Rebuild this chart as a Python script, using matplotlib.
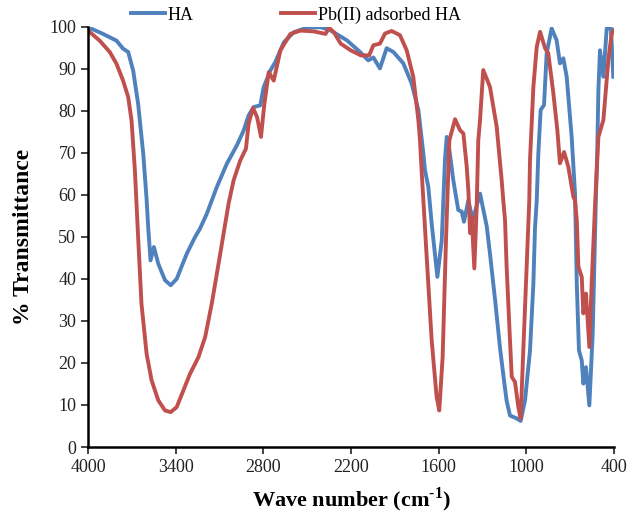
import matplotlib
matplotlib.use("Agg")
from matplotlib import pyplot as plt

plt.rcParams['font.family'] = ['Liberation Serif', 'DejaVu Serif']
plt.rcParams['mathtext.fontset'] = 'custom'
plt.rcParams['mathtext.rm'] = 'Liberation Serif'
plt.rcParams['mathtext.bf'] = 'Liberation Serif:bold'

# HA spectrum (wave number, % transmittance)
ha_wn = [4000, 3897, 3805, 3760, 3725, 3691, 3657, 3622, 3600, 3588, 3572, 3549,
         3519, 3473, 3434, 3393, 3324, 3267, 3233, 3187, 3118, 3050, 2981, 2935,
         2901, 2866, 2821, 2798, 2752, 2718, 2660, 2592, 2500, 2408, 2344, 2229,
         2138, 2082, 2047, 2002, 1956, 1910, 1842, 1785, 1739, 1705, 1694, 1671,
         1648, 1609, 1579, 1557, 1545, 1534, 1500, 1466, 1442, 1427, 1397, 1367,
         1317, 1271, 1249, 1214, 1180, 1150, 1135, 1112, 1066, 1039, 1009, 975,
         952, 941, 929, 918, 902, 879, 861, 827, 793, 770, 747, 724, 690, 667,
         655, 640, 621, 610, 592, 569, 546, 535, 525, 515, 507, 496, 473, 450,
         421, 405]
ha_t = [99.9, 98.3, 96.7, 94.8, 94.0, 89.6, 81.7, 69.8, 59.5, 52.3, 44.4, 47.6,
        43.6, 39.7, 38.5, 40.0, 46.0, 50.0, 52.0, 55.5, 61.9, 67.4, 71.8, 75.3,
        78.9, 80.9, 81.3, 85.6, 89.6, 91.6, 96.3, 98.7, 99.8, 99.9, 99.2, 96.8,
        94.0, 92.0, 92.7, 90.1, 94.9, 94.0, 91.3, 86.5, 80.2, 69.9, 65.9, 61.9,
        53.2, 40.5, 49.2, 68.3, 73.8, 72.6, 63.5, 56.4, 56.0, 53.6, 58.7, 54.0,
        60.3, 52.5, 46.0, 35.0, 23.5, 15.0, 11.0, 7.5, 6.8, 6.2, 11.1, 23.0,
        38.9, 52.0, 58.7, 69.9, 80.2, 81.4, 93.7, 99.6, 96.8, 91.3, 92.5, 88.1,
        73.8, 60.3, 38.9, 23.0, 20.6, 15.1, 19.0, 9.9, 27.0, 43.0, 58.0, 70.0,
        85.0, 94.4, 88.1, 99.6, 99.6, 88.1]

# Pb(II) adsorbed HA spectrum
pb_wn = [4000, 3920, 3851, 3805, 3760, 3725, 3702, 3679, 3657, 3634, 3599, 3565,
         3519, 3473, 3434, 3393, 3347, 3302, 3244, 3198, 3153, 3095, 3038, 3004,
         2958, 2919, 2901, 2871, 2843, 2816, 2793, 2763, 2729, 2683, 2615, 2546,
         2454, 2374, 2351, 2317, 2271, 2202, 2133, 2076, 2047, 2002, 1967, 1922,
         1865, 1819, 1774, 1739, 1728, 1717, 1682, 1648, 1614, 1596, 1573, 1550,
         1527, 1488, 1454, 1431, 1408, 1397, 1385, 1374, 1356, 1340, 1329, 1317,
         1295, 1249, 1203, 1169, 1158, 1146, 1135, 1112, 1100, 1078, 1055, 1039,
         1021, 998, 980, 975, 952, 929, 906, 872, 850, 815, 788, 770, 742, 713,
         678, 667, 655, 644, 621, 610, 592, 569, 553, 530, 507, 473, 439, 416, 400]
pb_t = [99.1, 96.7, 94.0, 91.2, 87.2, 83.3, 77.7, 65.8, 50.0, 34.1, 22.2, 15.9,
        11.1, 8.7, 8.3, 9.5, 13.5, 17.4, 21.4, 26.2, 34.1, 46.0, 57.9, 63.4,
        68.2, 71.0, 76.9, 80.7, 78.5, 73.8, 81.7, 89.2, 87.2, 94.4, 98.3, 99.1,
        98.9, 98.3, 99.8, 98.7, 96.0, 94.4, 93.2, 93.2, 95.6, 96.0, 98.4, 99.0,
        98.0, 94.4, 88.1, 77.8, 73.0, 65.9, 45.2, 25.4, 11.9, 8.7, 21.4, 49.2,
        73.0, 78.0, 75.4, 74.6, 66.7, 61.1, 50.9, 54.8, 42.5, 57.1, 73.0, 77.8,
        89.7, 85.7, 76.2, 63.5, 58.7, 54.0, 42.9, 25.4, 16.7, 15.5, 9.5, 6.8,
        23.0, 42.9, 58.7, 68.3, 85.7, 95.2, 98.8, 94.9, 93.7, 84.1, 75.4, 67.5,
        70.2, 66.7, 59.5, 58.7, 54.0, 42.9, 40.5, 31.8, 36.5, 23.8, 38.9, 57.5,
        73.8, 77.8, 92.1, 98.4, 99.2]

x_ticks = [4000, 3400, 2800, 2200, 1600, 1000, 400]

fig = plt.figure(figsize=(6.29, 5.15), dpi=100)
ax = fig.add_axes([0.1399, 0.132, 0.8363, 0.816])

ax.plot(ha_wn, ha_t, color='#4F81BD', linewidth=2.8, label='HA',
        solid_joinstyle='round')
ax.plot(pb_wn, pb_t, color='#C0504D', linewidth=2.8, label='Pb(II) adsorbed HA',
        solid_joinstyle='round')

ax.set_xlim(4000, 400)
ax.set_ylim(0, 100)
ax.set_xticks(x_ticks)
ax.set_yticks(range(0, 101, 10))
ax.tick_params(labelsize=13, length=5, width=1.2, colors='#222222')
for s in ['top', 'right']:
    ax.spines[s].set_visible(False)
for s in ['left', 'bottom']:
    ax.spines[s].set_linewidth(1.8)
    ax.spines[s].set_color('black')

ax.set_xlabel('Wave number (cm$^{\\mathbf{\u2010}\\mathbf{1}}$)', fontsize=16,
              fontweight='bold', labelpad=7)
ax.set_ylabel('% Transmittance', fontsize=17, fontweight='bold', labelpad=11)

fig.legend(loc='center left', bbox_to_anchor=(131 / 629, 0.971), ncol=2,
           frameon=False, fontsize=13, borderpad=0, handlelength=1.9,
           handletextpad=0.15, columnspacing=4.8, borderaxespad=0)

plt.savefig('out.png', dpi=100)
